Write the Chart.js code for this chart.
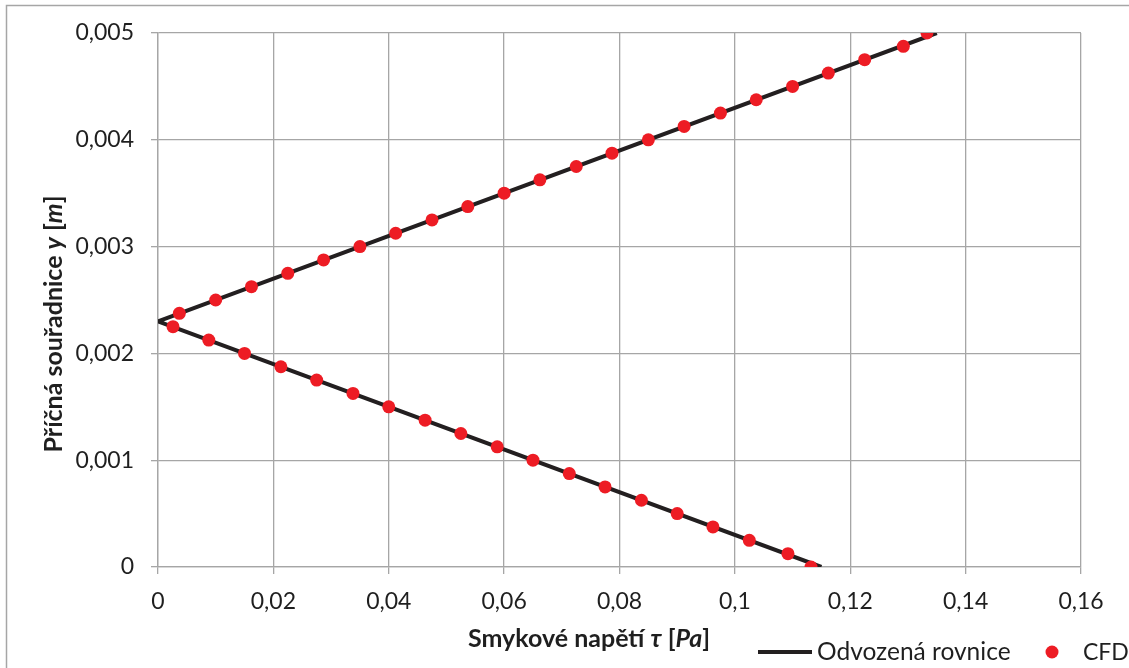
<!DOCTYPE html>
<html lang="cs">
<head>
  <meta charset="UTF-8" />
  <title>Smykové napětí – příčná souřadnice</title>
  <script src="https://cdn.jsdelivr.net/npm/chart.js"></script>
  <style>
    html, body {
      margin: 0;
      padding: 0;
      background: #fff;
    }
    #obal {
      position: relative;
      width: 1129px;
      height: 668px;
    }
  </style>
</head>
<body>
  <div id="obal">
    <canvas id="graf" width="1129" height="668"></canvas>
  </div>

  <script>
    // Odvozená rovnice (lomená přímka)
    const rovniceX = [0.115, 0, 0.135];
    const rovniceY = [0, 0.0023, 0.005];

    // CFD body
    const cfdY = [
      0, 0.000125, 0.00025, 0.000375, 0.0005, 0.000625, 0.00075, 0.000875,
      0.001, 0.001125, 0.00125, 0.001375, 0.0015, 0.001625, 0.00175, 0.001875,
      0.002, 0.002125, 0.00225, 0.002375, 0.0025, 0.002625, 0.00275, 0.002875,
      0.003, 0.003125, 0.00325, 0.003375, 0.0035, 0.003625, 0.00375, 0.003875,
      0.004, 0.004125, 0.00425, 0.004375, 0.0045, 0.004625, 0.00475, 0.004875,
      0.005
    ];
    const cfdX = [
      0.1132, 0.1092, 0.1025, 0.0962, 0.0900, 0.0838, 0.0775, 0.0713,
      0.0650, 0.0588, 0.0525, 0.0463, 0.0400, 0.0338, 0.0275, 0.0213,
      0.0150, 0.0088, 0.0026, 0.0037, 0.0100, 0.0162, 0.0225, 0.0287,
      0.0350, 0.0412, 0.0475, 0.0537, 0.0600, 0.0662, 0.0725, 0.0787,
      0.0850, 0.0912, 0.0975, 0.1037, 0.1100, 0.1162, 0.1225, 0.1292,
      0.1333
    ];

    // popisky os
    const xPopisky = ['0', '0,02', '0,04', '0,06', '0,08', '0,1', '0,12', '0,14', '0,16'];
    const yPopisky = ['0', '0,001', '0,002', '0,003', '0,004', '0,005'];

    // titulky os: [text, kurzíva]
    const xTitulek = [['Smykové napětí ', false], ['τ', true], [' [', false], ['Pa', true], [']', false]];
    const yTitulek = [['Příčná souřadnice ', false], ['y', true], [' [', false], ['m', true], [']', false]];

    const nazvySerii = ['Odvozená rovnice', 'CFD'];

    const PISMO = 'Lato, "Open Sans", sans-serif';
    const BARVA_TEXTU = '#1f1f1f';
    const BARVA_MRIZKY = '#a6a6a6';
    const BARVA_CARY = '#231f20';
    const BARVA_BODU = '#ed1c24';

    const cislo = s => parseFloat(s.replace(',', '.'));

    function kresliText(ctx, casti, stredX, zakladna, velikost) {
      let sirka = 0;
      casti.forEach(([t, kurziva]) => {
        ctx.font = (kurziva ? 'italic ' : '') + 'bold ' + velikost + 'px ' + PISMO;
        sirka += ctx.measureText(t).width;
      });
      let x = stredX - sirka / 2;
      casti.forEach(([t, kurziva]) => {
        ctx.font = (kurziva ? 'italic ' : '') + 'bold ' + velikost + 'px ' + PISMO;
        ctx.fillText(t, x, zakladna);
        x += ctx.measureText(t).width;
      });
    }

    const popiskyPlugin = {
      id: 'popisky',
      beforeDraw(chart) {
        const ctx = chart.ctx;
        ctx.save();
        ctx.fillStyle = '#fff';
        ctx.fillRect(0, 0, chart.width, chart.height);
        ctx.strokeStyle = '#a6a6a6';
        ctx.lineWidth = 1.5;
        ctx.strokeRect(6.5, 5.5, chart.width + 20, chart.height + 20);
        ctx.restore();
      },
      afterDraw(chart) {
        const ctx = chart.ctx;
        ctx.save();
        ctx.fillStyle = BARVA_TEXTU;
        ctx.textBaseline = 'alphabetic';
        ctx.textAlign = 'left';

        // titulek osy x
        kresliText(ctx, xTitulek, 589, 647, 25);

        // titulek osy y
        ctx.save();
        ctx.translate(62, 324);
        ctx.rotate(-Math.PI / 2);
        kresliText(ctx, yTitulek, 0, 0, 25);
        ctx.restore();

        // legenda
        ctx.strokeStyle = BARVA_CARY;
        ctx.lineWidth = 4;
        ctx.beginPath();
        ctx.moveTo(758, 652);
        ctx.lineTo(812, 652);
        ctx.stroke();
        ctx.font = '24.5px ' + PISMO;
        ctx.fillText(nazvySerii[0], 817, 660);

        ctx.fillStyle = BARVA_BODU;
        ctx.beginPath();
        ctx.arc(1052, 652, 6.5, 0, Math.PI * 2);
        ctx.fill();
        ctx.fillStyle = BARVA_TEXTU;
        ctx.font = '23px ' + PISMO;
        ctx.fillText(nazvySerii[1], 1083, 660);
        ctx.restore();
      }
    };

    const mrizka = {
      color: BARVA_MRIZKY,
      lineWidth: 1.3,
      tickLength: 7,
      drawTicks: true
    };

    new Chart(document.getElementById('graf'), {
      type: 'scatter',
      data: {
        datasets: [
          {
            label: nazvySerii[0],
            type: 'line',
            data: rovniceX.map((x, i) => ({ x, y: rovniceY[i] })),
            borderColor: BARVA_CARY,
            borderWidth: 4,
            borderJoinStyle: 'miter',
            pointRadius: 0,
            fill: false,
            tension: 0,
            order: 2
          },
          {
            label: nazvySerii[1],
            data: cfdX.map((x, i) => ({ x, y: cfdY[i] })),
            backgroundColor: BARVA_BODU,
            borderWidth: 0,
            pointRadius: 6.5,
            pointHoverRadius: 6.5,
            order: 1
          }
        ]
      },
      options: {
        responsive: false,
        animation: false,
        devicePixelRatio: 1,
        layout: { padding: { left: 0, top: 33, right: 48, bottom: 0 } },
        plugins: {
          legend: { display: false },
          title: { display: false },
          tooltip: { enabled: false }
        },
        scales: {
          x: {
            type: 'linear',
            min: 0,
            max: 0.16,
            afterBuildTicks: s => { s.ticks = xPopisky.map(t => ({ value: cislo(t) })); },
            afterFit: s => { s.height = 101; },
            ticks: {
              callback: (v, i) => xPopisky[i],
              font: { family: PISMO, size: 23 },
              color: BARVA_TEXTU,
              padding: 14,
              maxRotation: 0,
              autoSkip: false
            },
            grid: mrizka,
            border: { color: BARVA_MRIZKY, width: 1.3 }
          },
          y: {
            type: 'linear',
            min: 0,
            max: 0.005,
            afterBuildTicks: s => { s.ticks = yPopisky.map(t => ({ value: cislo(t) })); },
            afterFit: s => { s.width = 158; },
            ticks: {
              callback: (v, i) => yPopisky[i],
              font: { family: PISMO, size: 23 },
              color: BARVA_TEXTU,
              padding: 17,
              autoSkip: false
            },
            grid: mrizka,
            border: { color: BARVA_MRIZKY, width: 1.3 }
          }
        }
      },
      plugins: [popiskyPlugin]
    });
  </script>
</body>
</html>
